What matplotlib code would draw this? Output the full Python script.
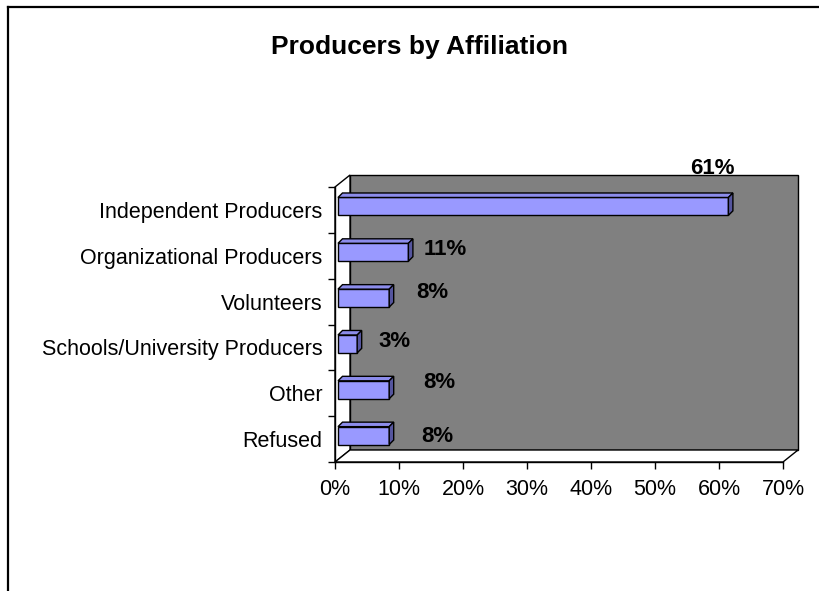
import matplotlib
matplotlib.use("Agg")
import matplotlib.pyplot as plt
from matplotlib.patches import Polygon
from matplotlib.lines import Line2D
from matplotlib.transforms import offset_copy
import numpy as np

plt.rcParams['font.family'] = ['Liberation Sans', 'DejaVu Sans']

# survey answers, top to bottom
categories = ["Independent Producers", "Organizational Producers", "Volunteers",
              "Schools/University Producers", "Other", "Refused"]
shares = [61, 11, 8, 3, 8, 8]
x_ticks = [0, 10, 20, 30, 40, 50, 60, 70]
x_tick_labels = ["0%", "10%", "20%", "30%", "40%", "50%", "60%", "70%"]

# where each value label sits relative to the bar end (pixels)
label_offsets = [(-13, 41), (40, 6), (46, 9), (40, 6), (53, 11), (51, 3)]

fig = plt.figure(figsize=(8.19, 5.91), dpi=100)
W, H = 819, 591
ax = fig.add_axes([335 / W, (H - 462) / H, 448 / W, 275 / H])
ax.patch.set_visible(False)
ax.set_xlim(0, 70)
ax.set_ylim(len(categories) - 0.5, -0.5)

inv = ax.transData.inverted()


def shift(x, y, px, py):
    # move a data point by some pixels on screen, return data coords
    d = ax.transData.transform((x, y))
    return inv.transform(d + np.array([px, py]))


# depth of the box and of each bar, in pixels
DX, DY = 15, 12
BX, BY = 4.5, 4.5

y0, y1 = -0.5, len(categories) - 0.5
front = [(0, y0), (70, y0), (70, y1), (0, y1)]
back = [shift(x, y, DX, DY) for x, y in front]

wall = Polygon(back, closed=True, facecolor="#808080", edgecolor="black",
               lw=1, zorder=0, clip_on=False)
side = Polygon([front[0], back[0], back[3], front[3]], closed=True,
               facecolor="white", edgecolor="black", lw=1, zorder=0, clip_on=False)
floor = Polygon([front[3], front[2], back[2], back[3]], closed=True,
                facecolor="white", edgecolor="black", lw=1, zorder=0, clip_on=False)
for p in (wall, side, floor):
    ax.add_patch(p)

# bars sit a little way back from the front plane
bar_h = 0.39
bar_tr = offset_copy(ax.transData, fig=fig, x=3, y=3.5, units='dots')
ypos = np.arange(len(categories))
bars = ax.barh(ypos, shares, height=bar_h, color="#9999FF", edgecolor="black",
               lw=1, zorder=3)
for b in bars:
    b.set_transform(bar_tr)
    b.set_clip_on(False)

for i, v in enumerate(shares):
    top = i - bar_h / 2
    bot = i + bar_h / 2
    p0 = shift(0, top, 3, 3.5)
    p1 = shift(v, top, 3, 3.5)
    p2 = shift(v, bot, 3, 3.5)
    q0 = shift(0, top, 3 + BX, 3.5 + BY)
    q1 = shift(v, top, 3 + BX, 3.5 + BY)
    q2 = shift(v, bot, 3 + BX, 3.5 + BY)
    ax.add_patch(Polygon([p0, p1, q1, q0], closed=True, facecolor="#8C8CEB",
                         edgecolor="black", lw=1, zorder=3, clip_on=False))
    ax.add_patch(Polygon([p1, p2, q2, q1], closed=True, facecolor="#55559E",
                         edgecolor="black", lw=1, zorder=3, clip_on=False))
    dx, dy = label_offsets[i]
    ax.annotate(f"{v}%", xy=(v, i), xytext=(dx, dy), textcoords='offset pixels',
                ha='center', va='center', fontsize=16, fontweight='bold',
                annotation_clip=False, zorder=5)

# axes: left and bottom lines only
for s in ("top", "right"):
    ax.spines[s].set_visible(False)
for s in ("left", "bottom"):
    ax.spines[s].set_linewidth(1)
    ax.spines[s].set_zorder(2)

ax.set_yticks(np.arange(-0.5, len(categories), 1.0))
ax.set_yticklabels([])
ax.set_yticks(ypos, minor=True)
ax.set_yticklabels(categories, minor=True, fontsize=15.5)
ax.tick_params(axis='y', which='major', length=5, width=1, direction='out')
ax.tick_params(axis='y', which='minor', length=0, pad=9)

ax.set_xticks(x_ticks)
ax.set_xticklabels(x_tick_labels, fontsize=15.5)
ax.tick_params(axis='x', length=5, width=1, direction='out', pad=7.5)

fig.text(420 / W, 1 - 47 / H, "Producers by Affiliation", ha='center',
         va='center', fontsize=19, fontweight='bold')

# outer frame (left and top edges)
fig.add_artist(Line2D([8 / W, 8 / W], [0, 1 - 7 / H], transform=fig.transFigure,
                      color="black", lw=1.6))
fig.add_artist(Line2D([8 / W, 1], [1 - 7 / H, 1 - 7 / H], transform=fig.transFigure,
                      color="black", lw=1.6))

fig.savefig("out.png", dpi=100)
